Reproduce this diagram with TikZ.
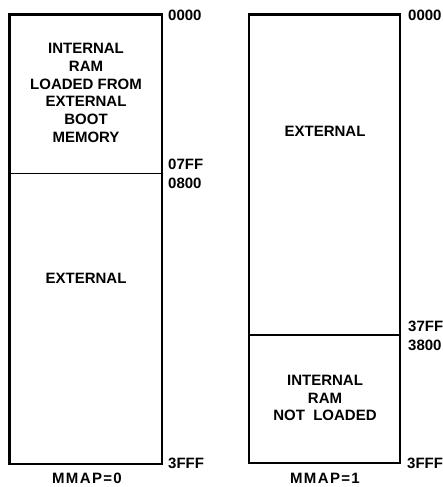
\documentclass[tikz,border=0pt]{standalone}
\usepackage{fontspec}
\setmainfont{Liberation Sans}
\begin{document}
\begin{tikzpicture}[x=1pt,y=-1pt,
  box/.style={draw, line width=2.2pt},
  divider/.style={draw, line width=1.2pt},
  addr/.style={anchor=west, inner sep=0pt, font=\bfseries\fontsize{15}{17.7}\selectfont},
  region/.style={align=center, inner sep=0pt, font=\bfseries\fontsize{15}{17.7}\selectfont},
  caption/.style={inner sep=0pt, font=\bfseries\fontsize{15}{17.7}\selectfont\addfontfeature{LetterSpace=9}}]
\useasboundingbox (0,0) rectangle (442,487);
% left map
\coordinate (l-tl) at (9.5,14.5);
\coordinate (l-br) at (162,464);
\coordinate (l-dl) at (9.5,173.5);
\coordinate (l-dr) at (162,173.5);
\draw[box] (l-tl) rectangle (l-br);
\draw[divider] (l-dl) -- (l-dr);
\node[region] (l-int) at (86,93) {INTERNAL\\RAM\\LOADED FROM\\EXTERNAL\\BOOT\\MEMORY};
\node[region] (l-ext) at (86,278) {EXTERNAL};
\node[addr] (l-a0) at (168,15.5) {0000};
\node[addr] (l-a1) at (168,164.5) {07FF};
\node[addr] (l-a2) at (168,183.5) {0800};
\node[addr] (l-a3) at (168,463) {3FFF};
\node[caption] (l-cap) at (87,478) {MMAP=0};
% right map
\coordinate (r-tl) at (249,14.5);
\coordinate (r-br) at (400,463);
\coordinate (r-dl) at (249,335);
\coordinate (r-dr) at (400,335);
\draw[box] (r-tl) rectangle (r-br);
\draw[divider] (r-dl) -- (r-dr);
\node[region] (r-ext) at (325,131) {EXTERNAL};
\node[region] (r-int) at (325,398) {INTERNAL\\RAM\\NOT\ \ LOADED};
\node[addr] (r-a0) at (408,15.5) {0000};
\node[addr] (r-a1) at (408,326.5) {37FF};
\node[addr] (r-a2) at (408,345.5) {3800};
\node[addr] (r-a3) at (407,463) {3FFF};
\node[caption] (r-cap) at (325,478) {MMAP=1};
\end{tikzpicture}
\end{document}
